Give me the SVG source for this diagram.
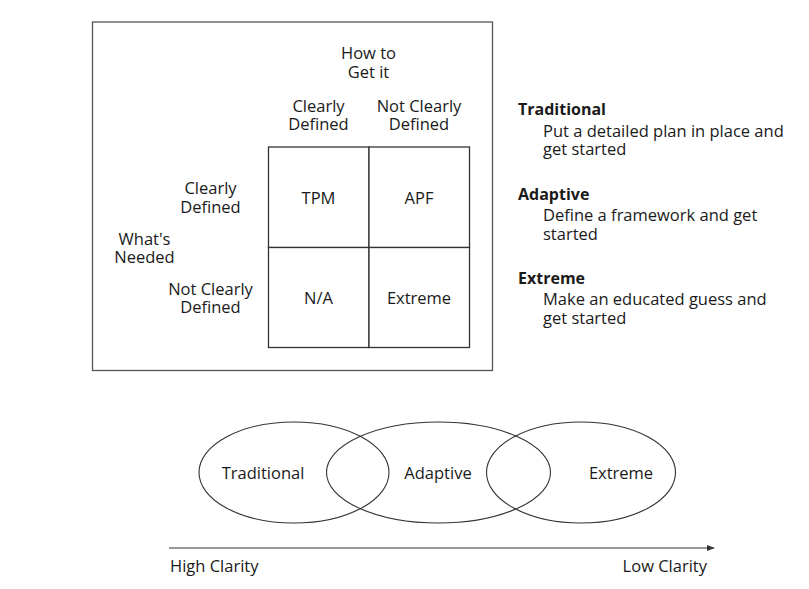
<svg xmlns="http://www.w3.org/2000/svg" width="809" height="589" viewBox="0 0 809 589">
  <style>
    text { font-family: "Open Sans", "Noto Sans", "Liberation Sans", sans-serif; font-size: 16.5px; fill: #1a1a1a; }
    .c { text-anchor: middle; }
    .b { font-weight: bold; font-size: 16px; }
    .frame { fill: none; stroke: #555; stroke-width: 1.3; }
    .cell { fill: #fff; stroke: #333; stroke-width: 1.3; }
    .ell { fill: none; stroke: #333; stroke-width: 1.1; }
    .axis { stroke: #333; stroke-width: 1.2; fill: none; }
  </style>
  <defs>
    <marker id="arrow" viewBox="0 0 10 10" refX="9" refY="5" markerWidth="8" markerHeight="8" markerUnits="userSpaceOnUse" orient="auto">
      <path d="M0,1 L10,5 L0,9 Z" fill="#333"/>
    </marker>
  </defs>
  <rect width="809" height="589" fill="#fff"/>

  <g id="frame">
    <rect class="frame" x="92.5" y="22" width="400" height="348.5"/>
  </g>

  <g id="header-how">
    <text class="c" x="368.5" y="59">How to<tspan x="368.5" dy="19">Get it</tspan></text>
  </g>
  <g id="col-clear">
    <text class="c" x="318.5" y="111.5">Clearly<tspan x="318.5" dy="18.5">Defined</tspan></text>
  </g>
  <g id="col-notclear">
    <text class="c" x="419" y="111.5">Not Clearly<tspan x="419" dy="18.5">Defined</tspan></text>
  </g>
  <g id="row-clear">
    <text class="c" x="210.5" y="193.5">Clearly<tspan x="210.5" dy="19.5">Defined</tspan></text>
  </g>
  <g id="header-what">
    <text class="c" x="144.5" y="244.5">What's<tspan x="144.5" dy="18.5">Needed</tspan></text>
  </g>
  <g id="row-notclear">
    <text class="c" x="210.5" y="294.5">Not Clearly<tspan x="210.5" dy="18.5">Defined</tspan></text>
  </g>

  <g id="cell-tpm">
    <rect class="cell" x="268.5" y="147" width="100.5" height="100.5"/>
    <text class="c" x="318.5" y="203.5">TPM</text>
  </g>
  <g id="cell-apf">
    <rect class="cell" x="369" y="147" width="100.5" height="100.5"/>
    <text class="c" x="419" y="203.5">APF</text>
  </g>
  <g id="cell-na">
    <rect class="cell" x="268.5" y="247.5" width="100.5" height="100"/>
    <text class="c" x="318.5" y="303.5">N/A</text>
  </g>
  <g id="cell-extreme">
    <rect class="cell" x="369" y="247.5" width="100.5" height="100"/>
    <text class="c" x="419" y="303.5">Extreme</text>
  </g>

  <g id="legend-traditional">
    <text class="b" x="518" y="114.5">Traditional</text>
    <text x="543" y="136.5">Put a detailed plan in place and<tspan x="543" dy="18.5">get started</tspan></text>
  </g>
  <g id="legend-adaptive">
    <text class="b" x="518" y="199.5">Adaptive</text>
    <text x="543" y="221">Define a framework and get<tspan x="543" dy="18.5">started</tspan></text>
  </g>
  <g id="legend-extreme">
    <text class="b" x="518" y="283.5">Extreme</text>
    <text x="543" y="305">Make an educated guess and<tspan x="543" dy="18.5">get started</tspan></text>
  </g>

  <g id="ellipse-traditional">
    <ellipse class="ell" cx="294" cy="472.5" rx="95" ry="50.5"/>
    <text class="c" x="263" y="479">Traditional</text>
  </g>
  <g id="ellipse-adaptive">
    <ellipse class="ell" cx="438.5" cy="472.5" rx="112" ry="50.5"/>
    <text class="c" x="438" y="479">Adaptive</text>
  </g>
  <g id="ellipse-extreme">
    <ellipse class="ell" cx="581" cy="472.5" rx="94.5" ry="50.5"/>
    <text class="c" x="621" y="479">Extreme</text>
  </g>

  <g id="connectors">
    <line class="axis" x1="169" y1="548" x2="714" y2="548" marker-end="url(#arrow)"/>
  </g>
  <g id="axis-labels">
    <text x="170" y="572">High Clarity</text>
    <text x="707" y="572" text-anchor="end">Low Clarity</text>
  </g>
</svg>
